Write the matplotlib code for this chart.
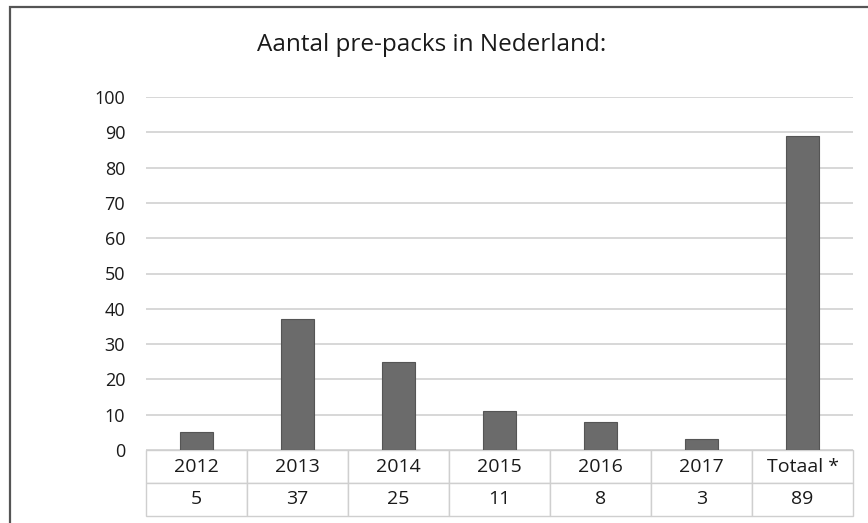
import matplotlib.pyplot as plt
from matplotlib.patches import Rectangle

categories = ["2012", "2013", "2014", "2015", "2016", "2017", "Totaal *"]
values = [5, 37, 25, 11, 8, 3, 89]
yticks = [0, 10, 20, 30, 40, 50, 60, 70, 80, 90, 100]

plt.rcParams['font.family'] = ['Open Sans', 'DejaVu Sans']

W, H = 868, 523
fig = plt.figure(figsize=(W / 100, H / 100), dpi=100)
ax = fig.add_axes([146 / W, (H - 450) / H, (853 - 146) / W, (450 - 97) / H])

x = list(range(len(categories)))
ax.bar(x, values, width=0.32, color="#6b6b6b", edgecolor="#555555", linewidth=0.8, zorder=3)

ax.set_xlim(-0.5, len(categories) - 0.5)
ax.set_ylim(0, 100)
ax.set_yticks(yticks)
ax.set_xticks([])
ax.tick_params(axis="y", length=0, pad=15, labelsize=13, labelcolor="#1a1a1a")
ax.grid(axis="y", color="#d4d4d4", linewidth=1.3, zorder=0)
for s in ax.spines.values():
    s.set_visible(False)

# data table under the bars
row_h = 33 / (450 - 97)
tbl = ax.table(cellText=[categories, [str(v) for v in values]],
               cellLoc="center", bbox=[0, -2 * row_h, 1, 2 * row_h])
tbl.auto_set_font_size(False)
for (r, c), cell in tbl.get_celld().items():
    cell.set_edgecolor("#cfcfcf")
    cell.set_linewidth(1.0)
    cell.get_text().set_fontsize(14)
    cell.get_text().set_color("#1a1a1a")

fig.text(432 / W, 1 - 45 / H, "Aantal pre-packs in Nederland:", ha="center", va="center",
         fontsize=17.5, color="#1a1a1a")

# outer frame of the chart box
fig.patches.append(Rectangle((10 / W, -0.05), 1.2, 1.05 - 7 / H, transform=fig.transFigure,
                             fill=False, edgecolor="#555555", linewidth=1.6))

fig.savefig("out.png", dpi=100)
plt.close()
